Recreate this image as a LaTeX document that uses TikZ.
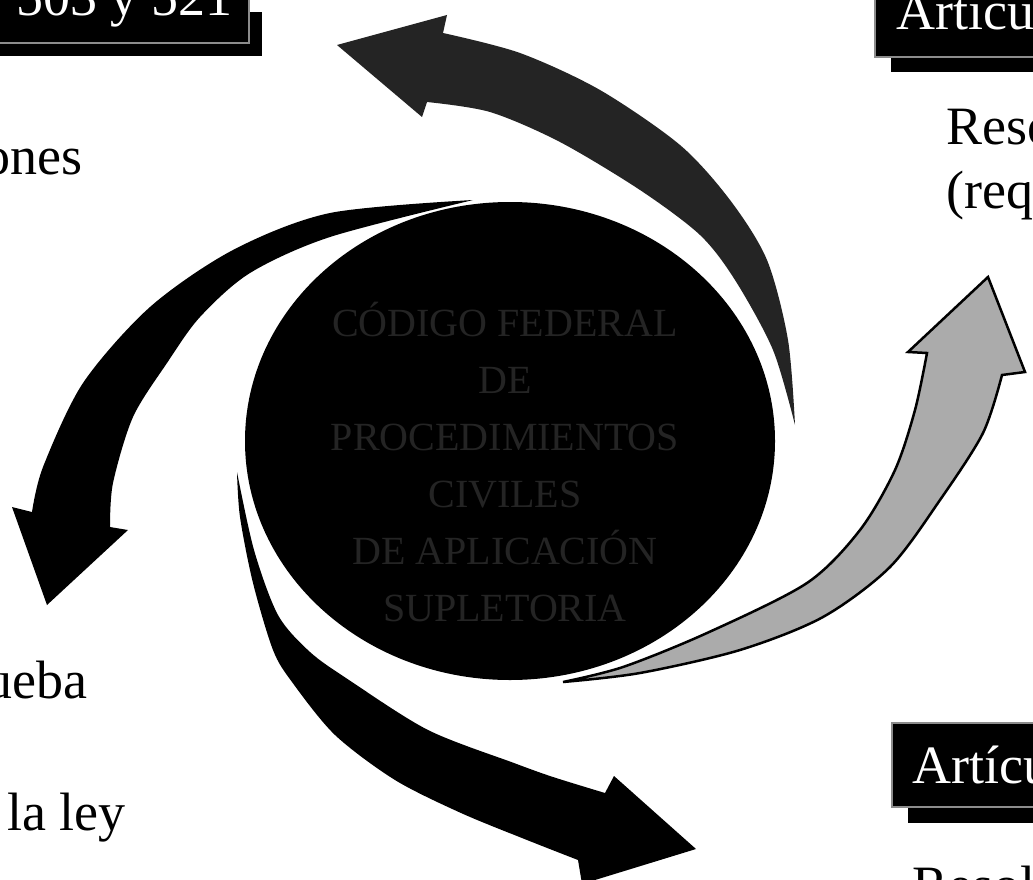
\documentclass[tikz,border=0pt]{standalone}
\usepackage{fontspec}
\setmainfont{Liberation Serif}
\usetikzlibrary{shapes.geometric}
\begin{document}
\begin{tikzpicture}[x=1pt,y=-1pt,
  lbl/.style={anchor=base west, inner sep=0pt, font=\fontsize{54}{60}\selectfont},
  boxlbl/.style={lbl, text=white},
  boxshadow/.style={fill=black},
  boxmain/.style={fill=black, draw=black!45, line width=1.2pt},
  ctext/.style={inner sep=0pt, font=\fontsize{40}{57}\selectfont, text=black!86, align=center},
  hubshape/.style={ellipse, fill=black, inner sep=0pt, minimum width=530pt, minimum height=478pt},
  darkarrow/.style={fill=black!86},
  blackarrow/.style={fill=black},
  grayarrow/.style={fill=black!33, draw=black, line width=2.5pt, line join=miter},
]
\useasboundingbox (0,0) rectangle (1033,880);
\clip (0,0) rectangle (1033,880);
\fill[white] (0,0) rectangle (1033,880);

% central disc
\node[hubshape] (hub) at (510,441) {};
\node[ctext] (hubtext) at (505,462) {CÓDIGO FEDERAL\\DE\\PROCEDIMIENTOS\\CIVILES\\DE APLICACIÓN\\SUPLETORIA};

% top arrow (dark, pointing left)
\fill[darkarrow] plot[smooth] coordinates {(795,425) (788,340) (767,260) (730,200) (680,145) (600,90) (520,53) (443,33)}
  -- (447,15) -- (337,45) -- (422,117) -- (427,102)
  -- plot[smooth] coordinates {(427,102) (490,112) (560,142) (640,190) (700,235) (735,280) (773,350) (795,425)} -- cycle;

% left arrow (black, pointing down-left)
\fill[blackarrow] plot[smooth] coordinates {(473,200) (330,213) (233,250) (150,307) (83,383) (43,467) (32,512)}
  -- (12,507) -- (47,605) -- (128,530) -- (110,527)
  -- plot[smooth] coordinates {(110,527) (113,483) (133,417) (167,363) (200,317) (250,273) (330,237) (473,200)} -- cycle;

% bottom arrow (black, pointing down-right)
\fill[blackarrow] plot[smooth] coordinates {(237,472) (240,517) (253,583) (273,650) (292,682) (335,735) (395,780) (461,813) (527,840) (578,860)}
  -- (582,884) -- (696,849) -- (614,776) -- (605,793)
  -- plot[smooth] coordinates {(605,793) (553,777) (514,763) (428,730) (349,680) (310,652) (278,615) (254,550) (237,472)} -- cycle;

% right arrow (grey, pointing up)
\filldraw[grayarrow] plot[smooth] coordinates {(563,682) (640,673) (740,650) (823,617) (890,567) (940,500) (983,433) (1002,375)}
  -- (1025,372) -- (988,277) -- (908,352) -- (927,353)
  -- plot[smooth] coordinates {(927,353) (915,410) (895,470) (860,530) (807,583) (707,633) (623,667) (563,682)} -- cycle;

% top-left box
\fill[boxshadow] (0,12) rectangle (262,56);
\filldraw[boxmain] (-5,-5) rectangle (249,43);
\node[boxlbl] (tl) at (16,16) {503 y 521};

% top-right box
\fill[boxshadow] (891,14) rectangle (1040,72);
\filldraw[boxmain] (875,-5) rectangle (1040,57);
\node[boxlbl] (tr) at (896,30) {Artícu};

% bottom-right box
\fill[boxshadow] (908,740) rectangle (1040,823);
\filldraw[boxmain] (892,723) rectangle (1040,807);
\node[boxlbl] (br) at (912,783) {Artícu};

% plain texts
\node[lbl, anchor=base east] (t1) at (83,174) {ones};
\node[lbl, anchor=base east] (t2) at (88,698) {ueba};
\node[lbl] (t3) at (7,830) {la ley};
\node[lbl] (t4) at (946,145) {Reso};
\node[lbl] (t5) at (946,208) {(req};
\node[lbl] (t6) at (912,903) {Resol};
\end{tikzpicture}
\end{document}
